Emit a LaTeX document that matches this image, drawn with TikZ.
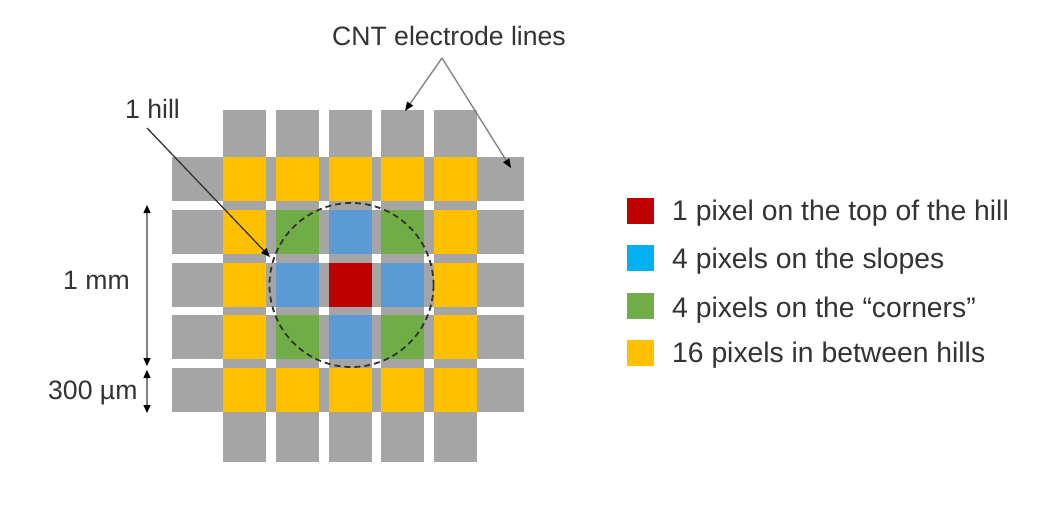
\documentclass[tikz,border=0pt]{standalone}
\usepackage{fontspec}
\setmainfont{Liberation Sans}
\usetikzlibrary{arrows.meta}
\definecolor{gridgray}{HTML}{A5A5A5}
\definecolor{pyellow}{HTML}{FFC000}
\definecolor{pgreen}{HTML}{70AD47}
\definecolor{pblue}{HTML}{5B9BD5}
\definecolor{lblue}{HTML}{00B0F0}
\definecolor{pred}{HTML}{C00000}
\definecolor{txt}{HTML}{333333}
\definecolor{arrgray}{HTML}{808080}
\tikzset{
  lbl/.style={text=txt, inner sep=0pt, anchor=base west, font=\fontsize{26.6}{30}\selectfont},
  leglbl/.style={lbl, font=\fontsize{28.3}{30}\selectfont},
  pointer/.style={draw=#1, line width=1.3pt, -{Triangle[length=9pt,width=7pt,color=black]}},
  dimline/.style={draw=arrgray, line width=1.3pt, {Triangle[length=8pt,width=7pt,color=black]}-{Triangle[length=8pt,width=7pt,color=black]}},
  legsq/.style={fill=#1, minimum width=27pt, minimum height=26pt, inner sep=0pt, anchor=north west}
}
\begin{document}
\begin{tikzpicture}[x=1pt,y=-1pt]
\useasboundingbox (0,0) rectangle (1050,506);
\fill[white] (0,0) rectangle (1050,506);
% electrode lines
\foreach \i in {0,...,4} {
  \fill[gridgray] ({223+52.75*\i},110) rectangle ++(43,352);
  \fill[gridgray] (172,{157+52.75*\i}) rectangle ++(352,44);
}
% white gaps between lines
\foreach \i in {0,...,5} \foreach \j in {0,...,5} {
  \fill[white] ({223+52.75*\i-9.75},{157+52.75*\j-8.75}) rectangle ++(9.75,8.75);
}
% pixels
\foreach \i in {0,...,4} \foreach \j in {0,...,4} {
  \pgfmathtruncatemacro{\di}{abs(\i-2)}
  \pgfmathtruncatemacro{\dj}{abs(\j-2)}
  \pgfmathtruncatemacro{\dd}{\di+\dj}
  \ifnum\di=2 \def\pc{pyellow}\else\ifnum\dj=2 \def\pc{pyellow}\else
    \ifnum\dd=0 \def\pc{pred}\else\ifnum\dd=1 \def\pc{pblue}\else\def\pc{pgreen}\fi\fi\fi\fi
  \fill[\pc] ({223+52.75*\i},{157+52.75*\j}) rectangle ++(43,44);
}
% hill circle
\coordinate (hc) at (351.5,285);
\draw[txt, line width=1.8pt, dash pattern=on 6pt off 4pt] (hc) circle[radius=82];
% labels
\node[lbl] (cnt) at (332,45) {CNT electrode lines};
\node[lbl] (hill) at (125,118) {1 hill};
\node[lbl] (mm) at (63,289.5) {1 mm};
\node[lbl] (um) at (48,399) {300 µm};
% pointers
\coordinate (apex) at (442,58);
\coordinate (t1) at (405,111);
\coordinate (t2) at (511,168);
\draw[pointer=arrgray] (apex) -- (t1);
\draw[pointer=arrgray] (apex) -- (t2);
\coordinate (hs) at (147,128);
\coordinate (ht) at (270,257);
\draw[pointer=txt] (hs) -- (ht);
% dimensions
\coordinate (d1) at (147,205);
\coordinate (d2) at (147,366);
\coordinate (d3) at (147,370);
\coordinate (d4) at (147,413);
\draw[dimline] (d1) -- (d2);
\draw[dimline] (d3) -- (d4);
% legend
\node[legsq=pred] (s1) at (627,198) {};
\node[legsq=lblue] (s2) at (627,245) {};
\node[legsq=pgreen] (s3) at (627,293) {};
\node[legsq=pyellow] (s4) at (627,340) {};
\node[leglbl] (l1) at (672,220) {1 pixel on the top of the hill};
\node[leglbl] (l2) at (672,268) {4 pixels on the slopes};
\node[leglbl] (l3) at (672,317) {4 pixels on the “corners”};
\node[leglbl] (l4) at (672,362) {16 pixels in between hills};
\end{tikzpicture}
\end{document}
